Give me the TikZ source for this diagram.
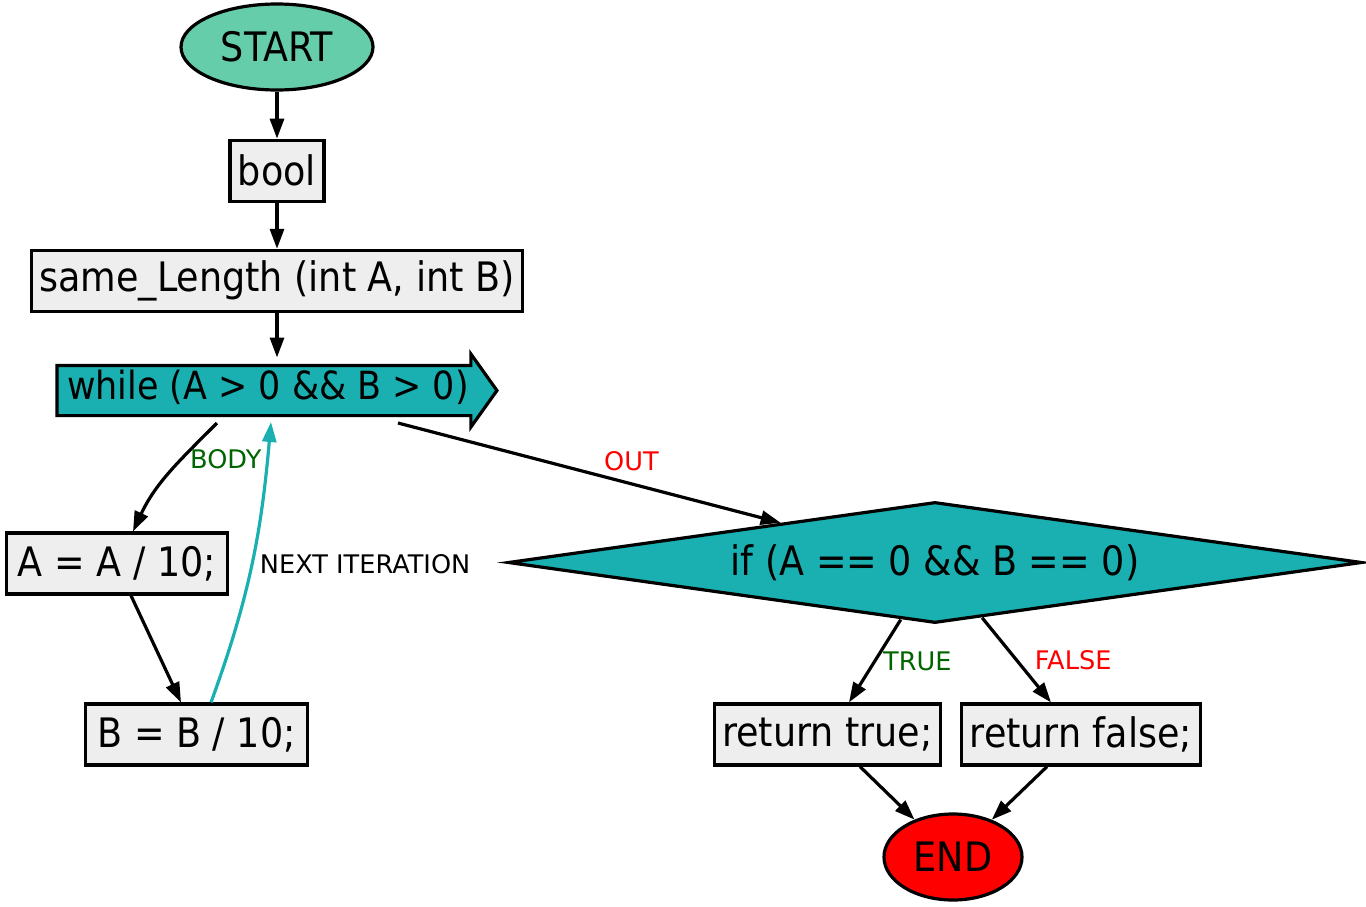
\documentclass[tikz,border=0pt]{standalone}
\usepackage{fontspec}
\setmainfont{DejaVu Sans Condensed}
\newfontfamily\labelfont{DejaVu Sans}
\definecolor{flowGrey}{RGB}{238,238,238}
\definecolor{flowStart}{RGB}{102,205,170}
\definecolor{flowTeal}{RGB}{26,175,176}
\definecolor{flowRed}{RGB}{255,0,0}
\definecolor{flowGreen}{RGB}{0,100,0}
\newcommand{\flowfont}{\fontsize{20.3}{24}\selectfont}
\usepackage{tikz}
\usetikzlibrary{arrows.meta,positioning,shapes.geometric,shapes.arrows,calc}

\begin{document}
\begin{tikzpicture}[x=0.5pt, y=-0.5pt,
  box/.style={draw, line width=1.6pt, fill=flowGrey, minimum height=30.5pt,
              inner xsep=4pt, font=\flowfont},
  term/.style={draw, ellipse, line width=1.6pt, minimum height=43pt, inner sep=0pt,
               font=\flowfont},
  arr/.style={-{Triangle[length=10pt,width=7pt]}, line width=1.6pt},
  lbl/.style={font=\labelfont\fontsize{12.8}{15}\selectfont}
]
  \useasboundingbox (0,0) rectangle (1366,906);

  \node[term, fill=flowStart, minimum width=96pt] (start) at (277,47) {START};
  \node[box, below=23.5pt of start]                (bool) {bool};
  \node[box, below=23pt of bool]                   (sig)  {same\_Length (int A, int B)};
  \node[single arrow, draw, line width=1.6pt, fill=flowTeal,
        font=\fontsize{19.4}{23}\selectfont,
        minimum height=220pt, minimum width=35pt, single arrow head extend=5.75pt,
        single arrow tip angle=109, text height=13pt, text depth=4pt, inner ysep=3.25pt,
        inner xsep=3pt]
        (loop) at (268,390.5) {while (A > 0 \&\& B > 0)};

  \node[box, minimum width=110.5pt] (divA) at (117,563.5) {A = A / 10;};
  \node[box, minimum width=111pt]   (divB) at (196.5,734.5) {B = B / 10;};

  \node[draw, diamond, aspect=7, line width=1.6pt, fill=flowTeal, font=\flowfont,
        minimum width=427pt, minimum height=60.5pt, inner sep=0pt]
        (cond) at (935,562.5) {if (A == 0 \&\& B == 0)};

  \node[box] (yes) at (827.5,734.5) {return true;};
  \node[box] (no)  at (1081,734.5)  {return false;};
  \node[term, fill=flowRed, minimum width=69pt] (stop) at (953,857) {END};

  % straight chain at the top
  \draw[arr] (start) -- (bool);
  \draw[arr] (bool) -- (sig);
  \draw[arr] (sig) -- ([xshift=4.5pt,yshift=16.5pt]loop.center);

  % loop body
  \draw[arr] ([xshift=-25.5pt,yshift=-16.25pt]loop.center) to[out=-135, in=65]
        node[lbl, text=flowGreen, right, pos=0.35] {BODY} ([xshift=8pt]divA.north);
  \draw[arr] ([xshift=7pt]divA.south) -- ([xshift=-7.75pt]divB.north);
  \draw[arr, flowTeal] ([xshift=7.25pt]divB.north) to[out=70, in=-95]
        node[lbl, text=black, right, pos=0.5] {NEXT ITERATION}
        ([xshift=1.5pt,yshift=-15.75pt]loop.center);

  % leaving the loop
  \draw[arr] ([xshift=65pt,yshift=-16.25pt]loop.center) --
        node[lbl, text=flowRed, above=2.5pt, pos=0.61] {OUT}
        ($(cond.west)!0.64!(cond.north)$);
  \draw[arr] ($(cond.south)!0.08!(cond.west)$) --
        node[lbl, text=flowGreen, right, pos=0.5] {TRUE} ([xshift=10.75pt]yes.north);
  \draw[arr] ($(cond.south)!0.11!(cond.east)$) --
        node[lbl, text=flowRed, right=5pt, pos=0.5] {FALSE} ([xshift=-15pt]no.north);
  \draw[arr] ([xshift=16.25pt]yes.south) -- (stop);
  \draw[arr] ([xshift=-17pt]no.south) -- (stop);
\end{tikzpicture}
\end{document}
